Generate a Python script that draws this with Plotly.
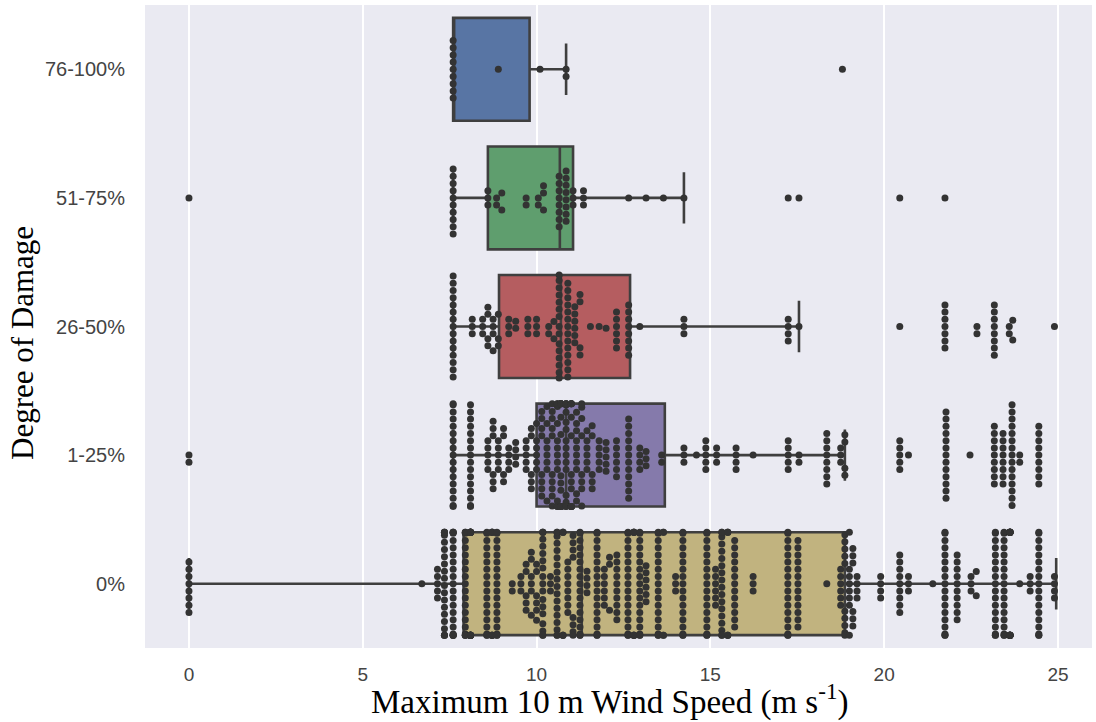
import numpy as np
import plotly.graph_objects as go

# ---------------- data ----------------
categories = ["76-100%", "51-75%", "26-50%", "1-25%", "0%"]
box_colors = ["#5875a4", "#5f9e6e", "#b55d60", "#857aab", "#c1b37f"]

# box statistics (m s-1)
q1 = [7.6, 8.6, 8.92, 10.0, 7.9]
median = [7.6, 10.67, 10.7, 10.85, 11.3]
q3 = [9.8, 11.05, 12.69, 13.69, 18.87]
lower_whisker = [7.6, 7.6, 7.6, 7.6, 0.0]
upper_whisker = [10.85, 14.24, 17.55, 18.87, 24.95]

# swarm observations: distinct wind speeds and how many points sit at each
speeds_76_100 = [7.6, 8.9, 10.1, 10.85, 18.8]
counts_76_100 = [9, 1, 1, 2, 1]

speeds_51_75 = [0.0, 7.6, 8.6, 8.85, 9.0, 9.7, 10.05, 10.2, 10.65, 10.85, 11.05,
                11.35, 12.65, 13.15, 13.65, 14.24, 17.24, 17.55, 20.45, 21.75]
counts_51_75 = [1, 10, 3, 2, 2, 2, 2, 3, 8, 8, 3,
                3, 1, 1, 1, 1, 1, 1, 1, 1]

speeds_26_50 = [7.6, 8.15, 8.45, 8.6, 8.75, 8.9, 9.2, 9.4, 9.75, 10.0, 10.35, 10.5,
                10.65, 10.9, 11.1, 11.25, 11.55, 11.8, 12.0, 12.3, 12.65, 12.97,
                14.24, 17.24, 17.55, 20.45, 21.75, 22.67, 23.17, 23.6, 23.7, 24.9]
counts_26_50 = [15, 3, 3, 4, 4, 3, 3, 2, 3, 3, 2, 2,
                15, 14, 6, 4, 1, 1, 1, 6, 8, 1,
                3, 4, 1, 1, 7, 2, 8, 2, 2, 1]

speeds_1_25 = [0.0, 7.6, 8.1, 8.6, 8.75, 8.9, 9.05, 9.2, 9.4, 9.7, 9.85, 10.0,
               10.15, 10.3, 10.45, 10.6, 10.7, 10.85, 11.0, 11.15, 11.3, 11.45,
               11.6, 11.8, 12.0, 12.3, 12.65, 12.97, 13.15, 13.6, 14.24, 14.6,
               14.87, 15.18, 15.74, 16.23, 17.24, 17.55, 18.35, 18.75, 18.87,
               20.45, 20.7, 21.78, 22.47, 23.17, 23.42, 23.68, 23.9, 24.45]
counts_1_25 = [2, 17, 16, 5, 6, 5, 4, 4, 4, 5, 5, 6,
               8, 8, 10, 12, 16, 16, 14, 10, 8, 6,
               5, 5, 5, 6, 12, 4, 3, 2, 3, 1,
               5, 3, 4, 1, 5, 2, 8, 3, 4,
               5, 1, 13, 1, 9, 8, 15, 2, 9]

speeds_0 = [0.0, 6.7, 7.15, 7.35, 7.6, 7.95, 8.1, 8.57, 8.72, 8.86, 9.3, 9.55,
            9.7, 9.85, 10.0, 10.18, 10.4, 10.59, 10.76, 10.9, 11.05, 11.25, 11.45,
            11.74, 11.95, 12.1, 12.31, 12.63, 12.8, 12.97, 13.15, 13.5, 13.65,
            14.0, 14.21, 14.9, 15.15, 15.33, 15.5, 15.7, 16.23, 17.23, 17.52,
            18.35, 18.75, 18.87, 19.0, 19.1, 19.22, 19.9, 20.45, 20.7, 21.4,
            21.75, 22.1, 22.5, 22.65, 23.2, 23.45, 23.62, 23.9, 24.2, 24.45, 24.9]
counts_0 = [8, 1, 5, 20, 22, 20, 20, 18, 8, 18, 2, 3,
            5, 6, 6, 18, 3, 18, 6, 8, 8, 18, 4,
            18, 6, 3, 10, 18, 8, 18, 6, 18, 4,
            3, 18, 18, 6, 18, 6, 13, 3, 18, 13,
            1, 6, 10, 8, 6, 4, 4, 9, 3, 1,
            18, 10, 3, 2, 18, 18, 18, 1, 3, 18, 4]

swarm_speeds = [speeds_76_100, speeds_51_75, speeds_26_50, speeds_1_25, speeds_0]
swarm_counts = [counts_76_100, counts_51_75, counts_26_50, counts_1_25, counts_0]

# ---------------- layout geometry ----------------
W, H = 1096, 722
M_L, M_R, M_T, M_B = 145, 4, 5, 74
X_RANGE = [-1.265, 25.98]
plot_w = W - M_L - M_R
plot_h = H - M_T - M_B
px_per_x = plot_w / (X_RANGE[1] - X_RANGE[0])
px_per_cat = plot_h / len(categories)

DOT = 7.0        # marker diameter (px)
SPACING = 7.2    # swarm spacing between dot centres (px)
BOX_WIDTH = 0.8


def swarm_offsets(values, d, gutter_px):
    """Beeswarm layout in screen pixels: offsets perpendicular to the value axis."""
    vals = np.asarray(values, dtype=float)
    order = np.argsort(vals, kind="stable")
    xs = vals[order] * px_per_x
    px_list, py_list = [], []
    ys = np.zeros(len(xs))
    for k, x in enumerate(xs):
        if px_list:
            pxa = np.array(px_list)
            pya = np.array(py_list)
            m = np.abs(pxa - x) < d
            nx, ny = pxa[m], pya[m]
        else:
            nx = ny = np.array([])
        if len(nx) == 0:
            y = 0.0
        else:
            h = np.sqrt(np.maximum(d * d - (nx - x) ** 2, 0.0))
            cands = np.concatenate([[0.0], ny + h, ny - h])
            cands = cands[np.lexsort((-cands, np.abs(np.round(cands, 6))))]
            dist2 = (nx[None, :] - x) ** 2 + (ny[None, :] - cands[:, None]) ** 2
            ok = np.all(dist2 >= d * d - 1e-6, axis=1)
            y = cands[np.argmax(ok)] if ok.any() else 0.0
        px_list.append(x)
        py_list.append(y)
        ys[k] = y
    ys = np.clip(ys, -gutter_px, gutter_px)
    out = np.empty(len(xs))
    out[order] = ys
    return out


fig = go.Figure()

# boxes
for i, cat in enumerate(categories):
    fig.add_trace(go.Box(
        y=[i], q1=[q1[i]], median=[median[i]], q3=[q3[i]],
        lowerfence=[lower_whisker[i]], upperfence=[upper_whisker[i]],
        orientation="h", width=BOX_WIDTH, whiskerwidth=0.5,
        fillcolor=box_colors[i], line=dict(color="#3f3f3f", width=2.6),
        boxpoints=False, hoverinfo="skip", showlegend=False, name=cat,
    ))

# swarms
gutter = BOX_WIDTH / 2 * px_per_cat
for i, cat in enumerate(categories):
    vals = np.repeat(swarm_speeds[i], swarm_counts[i])
    offs = swarm_offsets(vals, SPACING, gutter)
    fig.add_trace(go.Scatter(
        x=vals, y=i + offs / px_per_cat, mode="markers",
        marker=dict(size=DOT, color="#333333", line=dict(width=0)),
        hoverinfo="x", showlegend=False, name=cat,
    ))

fig.update_layout(
    width=W, height=H,
    margin=dict(l=M_L, r=M_R, t=M_T, b=M_B, autoexpand=False),
    paper_bgcolor="white", plot_bgcolor="#eaeaf2",
    boxmode="overlay", showlegend=False,
    annotations=[
        dict(text="Maximum 10 m Wind Speed (m s<sup>-1</sup>)",
             xref="paper", yref="paper",
             x=(609 - M_L) / plot_w, y=-(699 - (H - M_B)) / plot_h,
             xanchor="center", yanchor="middle", showarrow=False,
             font=dict(family="Liberation Serif, Times New Roman, serif", size=33, color="black")),
        dict(text="Degree of Damage",
             xref="paper", yref="paper",
             x=(22 - M_L) / plot_w, y=((H - M_B) - 343) / plot_h,
             xanchor="center", yanchor="middle", showarrow=False, textangle=-90,
             font=dict(family="Liberation Serif, Times New Roman, serif", size=31, color="black")),
    ],
)
fig.update_xaxes(
    range=X_RANGE, tickvals=[0, 5, 10, 15, 20, 25],
    showgrid=True, gridcolor="white", gridwidth=2, zeroline=False,
    ticks="outside", ticklen=9, tickcolor="rgba(0,0,0,0)",
    tickfont=dict(family="Liberation Sans Narrow, Liberation Sans, Arial", size=19, color="#444444"),
)
fig.update_yaxes(
    range=[len(categories) - 0.5, -0.5], tickvals=list(range(len(categories))),
    ticktext=categories, showgrid=False, zeroline=False,
    ticks="outside", ticklen=15, tickcolor="rgba(0,0,0,0)",
    tickfont=dict(family="Liberation Sans, Arial", size=20, color="#444444"),
)

fig.write_html("out.html", config={"displayModeBar": False},
               post_script="document.body.style.margin='0px';")
